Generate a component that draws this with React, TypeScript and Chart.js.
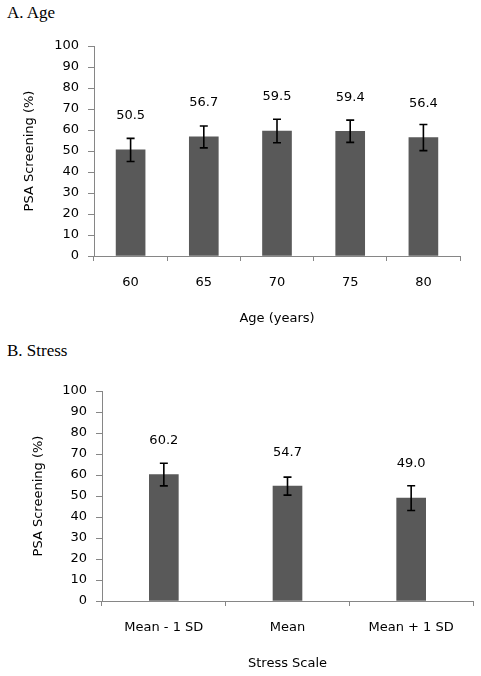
import React, { useEffect, useRef } from "react";
import { Chart, registerables } from "chart.js";

Chart.register(...registerables);

// ---- Data ----
const ageCategories = ["60", "65", "70", "75", "80"];
const ageValues = [50.5, 56.7, 59.5, 59.4, 56.4];
const ageErrors = [5.5, 5.2, 5.6, 5.3, 6.2];

const stressCategories = ["Mean - 1 SD", "Mean", "Mean + 1 SD"];
const stressValues = [60.2, 54.7, 49.0];
const stressErrors = [5.4, 4.3, 5.9];

const yMin = 0;
const yMax = 100;
const yStep = 10;

const yAxisTitle = "PSA Screening (%)";

const FONT_FAMILY = "'DejaVu Sans', sans-serif";
const FONT_SIZE = 13;
const AXIS_COLOR = "#868686";
const BAR_COLOR = "#595959";

const errorBarPlugin = {
  id: "errbars",
  afterDatasetsDraw(chart: any, _args: any, opts: any) {
    const { ctx } = chart;
    const meta = chart.getDatasetMeta(0);
    const yScale = chart.scales.y;
    const data = chart.data.datasets[0].data as number[];
    const errors: number[] = opts.errors || [];
    meta.data.forEach((bar: any, i: number) => {
      const v = data[i];
      const e = errors[i] || 0;
      const x = bar.x;
      const yTop = yScale.getPixelForValue(v + e);
      const yBot = yScale.getPixelForValue(v - e);
      ctx.save();
      ctx.strokeStyle = "#000";
      ctx.lineWidth = 1.6;
      ctx.beginPath();
      ctx.moveTo(x, yTop);
      ctx.lineTo(x, yBot);
      ctx.moveTo(x - 4, yTop);
      ctx.lineTo(x + 4, yTop);
      ctx.moveTo(x - 4, yBot);
      ctx.lineTo(x + 4, yBot);
      ctx.stroke();
      ctx.fillStyle = "#000";
      ctx.font = `${FONT_SIZE}px ${FONT_FAMILY}`;
      ctx.textAlign = "center";
      ctx.textBaseline = "middle";
      ctx.fillText(v.toFixed(1), x, bar.y - 34);
      ctx.restore();
    });
  },
};

type BarProps = {
  categories: string[];
  values: number[];
  errors: number[];
  xTitle: string;
  top: number;
  height: number;
  padTop: number;
  padRight: number;
  yAxisWidth: number;
  xAxisHeight: number;
  yTitlePad: number;
  xTitlePadBottom: number;
};

function BarChart(p: BarProps) {
  const ref = useRef<HTMLCanvasElement | null>(null);
  useEffect(() => {
    if (!ref.current) return;
    const font = { family: FONT_FAMILY, size: FONT_SIZE };
    const chart = new Chart(ref.current, {
      type: "bar",
      data: {
        labels: p.categories,
        datasets: [
          {
            data: p.values,
            backgroundColor: BAR_COLOR,
            borderWidth: 0,
            barThickness: 29,
          },
        ],
      },
      options: {
        responsive: false,
        animation: false,
        events: [],
        layout: { padding: { top: p.padTop, right: p.padRight, left: 0, bottom: 0 } },
        plugins: {
          legend: { display: false },
          tooltip: { enabled: false },
          title: { display: false },
          errbars: { errors: p.errors },
        } as any,
        scales: {
          x: {
            offset: true,
            grid: {
              offset: true,
              drawOnChartArea: false,
              drawTicks: true,
              tickLength: 5,
              color: AXIS_COLOR,
            },
            border: { display: true, color: AXIS_COLOR, width: 1 },
            ticks: { color: "#000", font, padding: 14, maxRotation: 0, autoSkip: false },
            title: {
              display: true,
              text: p.xTitle,
              color: "#000",
              font,
              padding: { top: 0, bottom: p.xTitlePadBottom },
            },
            afterFit: (s: any) => {
              s.height = p.xAxisHeight;
            },
          },
          y: {
            min: yMin,
            max: yMax,
            grid: {
              drawOnChartArea: false,
              drawTicks: true,
              tickLength: 6,
              color: AXIS_COLOR,
            },
            border: { display: true, color: AXIS_COLOR, width: 1 },
            ticks: { stepSize: yStep, color: "#000", font, padding: 9 },
            title: {
              display: true,
              text: yAxisTitle,
              color: "#000",
              font,
              padding: { top: p.yTitlePad, bottom: 0 },
            },
            afterFit: (s: any) => {
              s.width = p.yAxisWidth;
            },
          },
        },
      } as any,
      plugins: [errorBarPlugin],
    });
    return () => chart.destroy();
  }, []);
  return (
    <canvas
      ref={ref}
      width={481}
      height={p.height}
      style={{ position: "absolute", left: 0, top: p.top, width: 481, height: p.height, display: "block" }}
    />
  );
}

const titleStyle: React.CSSProperties = {
  position: "absolute",
  left: 7,
  fontFamily: "'Liberation Serif', 'Times New Roman', serif",
  fontSize: 17,
  lineHeight: "17px",
  color: "#000",
  whiteSpace: "nowrap",
};

export default function App() {
  return (
    <div style={{ position: "absolute", left: 0, top: 0, width: 481, height: 676, background: "#fff", overflow: "hidden" }}>
      <div style={{ ...titleStyle, top: 4 }}>A. Age</div>
      <BarChart
        categories={ageCategories}
        values={ageValues}
        errors={ageErrors}
        xTitle="Age (years)"
        top={0}
        height={340}
        padTop={46}
        padRight={21}
        yAxisWidth={94}
        xAxisHeight={84}
        yTitlePad={22}
        xTitlePadBottom={14}
      />
      <div style={{ ...titleStyle, top: 342 }}>B. Stress</div>
      <BarChart
        categories={stressCategories}
        values={stressValues}
        errors={stressErrors}
        xTitle="Stress Scale"
        top={336}
        height={340}
        padTop={55}
        padRight={8}
        yAxisWidth={102}
        xAxisHeight={75}
        yTitlePad={31}
        xTitlePadBottom={5}
      />
    </div>
  );
}
